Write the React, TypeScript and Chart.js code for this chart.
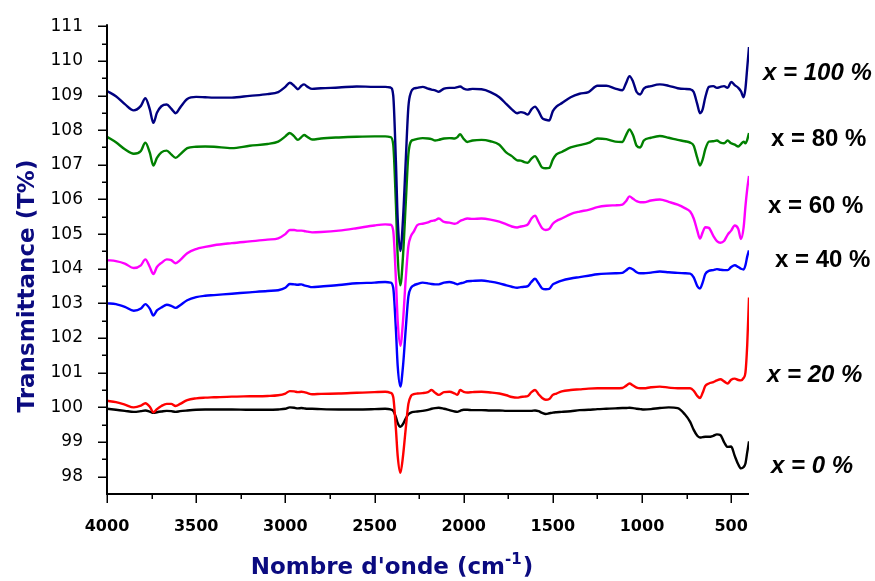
import { useEffect, useRef } from "react";
import { Chart, registerables } from "chart.js";

Chart.register(...registerables);

// Wavenumber grid (cm-1)
const WAVENUMBERS = [
  4000, 3950, 3900, 3850, 3810, 3785, 3760, 3740, 3720, 3695,
  3665, 3640, 3615, 3590, 3550, 3500, 3450, 3400, 3300, 3200,
  3100, 3040, 3000, 2975, 2950, 2930, 2910, 2895, 2875, 2850,
  2800, 2700, 2600, 2500, 2440, 2410, 2395, 2380, 2370, 2355,
  2340, 2325, 2310, 2295, 2280, 2260, 2230, 2200, 2180, 2160,
  2140, 2110, 2080, 2050, 2035, 2020, 2000, 1980, 1950, 1900,
  1850, 1800, 1760, 1730, 1700, 1680, 1660, 1640, 1620, 1600,
  1580, 1560, 1540, 1520, 1500, 1480, 1450, 1400, 1350, 1300,
  1250, 1200, 1150, 1110, 1090, 1070, 1050, 1030, 1010, 990,
  950, 900, 850, 800, 760, 730, 710, 690, 675, 660,
  645, 625, 600, 580, 560, 540, 520, 500, 480, 460,
  445, 430, 420, 410, 400,
];

const T_100 = [
  109.13, 108.98, 108.75, 108.57, 108.7, 108.92, 108.6, 108.21, 108.5, 108.69,
  108.74, 108.62, 108.49, 108.65, 108.9, 108.96, 108.95, 108.94, 108.94, 108.99,
  109.04, 109.1, 109.25, 109.37, 109.28, 109.18, 109.28, 109.32, 109.25, 109.19,
  109.21, 109.23, 109.26, 109.25, 109.25, 109.23, 109.0, 107.1, 105.45, 104.51,
  105.45, 107.1, 108.67, 109.1, 109.2, 109.22, 109.25, 109.2, 109.17, 109.15,
  109.11, 109.2, 109.22, 109.22, 109.24, 109.26, 109.2, 109.17, 109.19, 109.18,
  109.1, 108.95, 108.75, 108.6, 108.49, 108.52, 108.5, 108.45, 108.6, 108.68,
  108.55, 108.35, 108.3, 108.28, 108.55, 108.68, 108.78, 108.95, 109.05, 109.1,
  109.28, 109.28, 109.2, 109.15, 109.35, 109.56, 109.4, 109.1, 109.03, 109.2,
  109.27, 109.32, 109.28, 109.21, 109.19, 109.18, 109.1, 108.75, 108.49, 108.6,
  108.95, 109.25, 109.27, 109.22, 109.25, 109.27, 109.22, 109.39, 109.3, 109.22,
  109.12, 108.95, 109.2, 109.8, 110.4,
];

const T_80 = [
  107.81, 107.65, 107.45, 107.32, 107.4, 107.64, 107.35, 106.98, 107.2, 107.36,
  107.41, 107.3, 107.2, 107.3, 107.48, 107.52, 107.53, 107.52, 107.48, 107.55,
  107.6, 107.67, 107.82, 107.92, 107.82, 107.72, 107.8, 107.86, 107.8, 107.73,
  107.76, 107.79, 107.81, 107.82, 107.82, 107.8, 107.58, 105.87, 104.38, 103.52,
  104.38, 105.87, 107.3, 107.68, 107.72, 107.75, 107.77, 107.76, 107.74, 107.7,
  107.72, 107.76, 107.77, 107.76, 107.8, 107.88, 107.75, 107.66, 107.7, 107.72,
  107.68, 107.58, 107.35, 107.25, 107.13, 107.12, 107.08, 107.06, 107.18, 107.25,
  107.1, 106.92, 106.9, 106.91, 107.15, 107.3, 107.37, 107.5, 107.57, 107.63,
  107.76, 107.74, 107.67, 107.66, 107.85, 108.02, 107.85, 107.55, 107.5, 107.7,
  107.78, 107.83, 107.78, 107.72, 107.68, 107.64, 107.55, 107.2, 106.98, 107.15,
  107.45, 107.67, 107.68, 107.7, 107.64, 107.62, 107.7, 107.62, 107.58, 107.53,
  107.6, 107.67, 107.62, 107.72, 107.92,
];

const T_60 = [
  104.25, 104.22, 104.15, 104.02, 104.1, 104.27, 104.05, 103.85, 104.05, 104.17,
  104.27, 104.25, 104.16, 104.25, 104.45, 104.57, 104.63, 104.68, 104.74, 104.79,
  104.84, 104.88, 105.0, 105.12, 105.12, 105.1, 105.1, 105.09, 105.07, 105.05,
  105.06, 105.1, 105.17, 105.25, 105.28, 105.27, 105.1, 103.7, 102.5, 101.78,
  102.5, 103.7, 104.65, 104.95, 105.07, 105.26, 105.3, 105.34, 105.38, 105.4,
  105.45, 105.35, 105.33, 105.3, 105.32, 105.38, 105.42, 105.45, 105.44, 105.45,
  105.42, 105.36, 105.28, 105.22, 105.19, 105.22, 105.24, 105.28, 105.45, 105.53,
  105.35, 105.17, 105.12, 105.15, 105.3, 105.38, 105.45, 105.58, 105.65, 105.7,
  105.78, 105.82, 105.83, 105.85, 105.95, 106.09, 106.02, 105.95, 105.92, 105.92,
  105.97, 106.0, 105.93, 105.85, 105.75, 105.65, 105.45, 105.1, 104.87, 105.05,
  105.2, 105.18, 104.95, 104.8, 104.75, 104.8, 104.98, 105.1, 105.25, 105.15,
  104.86, 105.2, 105.8, 106.3, 106.68,
];

const T_40 = [
  103.0, 102.98, 102.9, 102.79, 102.85, 102.98, 102.85, 102.65, 102.8, 102.88,
  102.96, 102.93, 102.87, 102.95, 103.09, 103.18, 103.22, 103.24, 103.28, 103.32,
  103.36, 103.38, 103.45, 103.56, 103.55, 103.54, 103.55, 103.52, 103.5, 103.47,
  103.49, 103.53, 103.58, 103.6, 103.62, 103.6, 103.45, 102.25, 101.2, 100.6,
  101.2, 102.25, 103.2, 103.45, 103.52, 103.56, 103.6, 103.58, 103.56, 103.55,
  103.55, 103.6, 103.62, 103.58, 103.55, 103.58, 103.6, 103.64, 103.65, 103.66,
  103.63, 103.58, 103.52, 103.48, 103.45, 103.47, 103.48, 103.5, 103.62, 103.71,
  103.58, 103.43, 103.41, 103.42, 103.55, 103.6, 103.66, 103.72, 103.76, 103.8,
  103.84, 103.86, 103.87, 103.88, 103.95, 104.02, 103.98, 103.9, 103.87, 103.87,
  103.89, 103.92, 103.9, 103.88, 103.87, 103.86, 103.75, 103.5, 103.43, 103.6,
  103.85, 103.94, 103.96, 103.99, 103.97, 103.96, 103.96, 104.05, 104.1, 104.05,
  104.0, 103.98, 104.1, 104.35, 104.53,
];

const T_20 = [
  100.19, 100.15, 100.08, 100.0, 100.05, 100.12, 100.02, 99.86, 99.95, 100.04,
  100.1, 100.1, 100.04, 100.1, 100.21, 100.26, 100.28, 100.29, 100.31, 100.32,
  100.33, 100.35, 100.4, 100.47, 100.46, 100.44, 100.45, 100.44, 100.41, 100.38,
  100.39, 100.4, 100.42, 100.44, 100.45, 100.42, 100.3, 99.38, 98.6, 98.11,
  98.6, 99.38, 100.1, 100.33, 100.38, 100.4, 100.41, 100.44, 100.5, 100.42,
  100.36, 100.44, 100.45, 100.4, 100.36, 100.5, 100.45, 100.43, 100.44, 100.45,
  100.43, 100.4, 100.35, 100.3, 100.28, 100.3, 100.31, 100.33, 100.44, 100.5,
  100.38, 100.27, 100.22, 100.24, 100.36, 100.4, 100.46, 100.5, 100.52, 100.54,
  100.55, 100.55, 100.55, 100.56, 100.62, 100.69, 100.63, 100.57, 100.55, 100.55,
  100.58, 100.6, 100.57, 100.55, 100.55, 100.55, 100.48, 100.33, 100.27, 100.42,
  100.62, 100.69, 100.73, 100.78, 100.81, 100.75, 100.69, 100.8, 100.83, 100.79,
  100.78, 100.85, 101.0, 101.8, 103.17,
];

const T_0 = [
  99.96, 99.93, 99.9, 99.87, 99.89, 99.91, 99.88, 99.84, 99.86, 99.88,
  99.9, 99.89, 99.87, 99.89, 99.91, 99.93, 99.94, 99.94, 99.94, 99.93,
  99.93, 99.94, 99.96, 100.0, 99.99, 99.97, 99.98, 99.97, 99.96, 99.96,
  99.95, 99.94, 99.94, 99.95, 99.96, 99.94, 99.9, 99.72, 99.55, 99.44,
  99.52, 99.68, 99.8, 99.85, 99.87, 99.88, 99.9, 99.93, 99.96, 99.98,
  99.99, 99.96, 99.92, 99.88, 99.87, 99.9, 99.93, 99.93, 99.92, 99.92,
  99.91, 99.91, 99.9, 99.9, 99.9, 99.9, 99.9, 99.9, 99.9, 99.91,
  99.89, 99.84, 99.81, 99.83, 99.85, 99.86, 99.87, 99.89, 99.92, 99.93,
  99.95, 99.96, 99.97, 99.98, 99.98, 99.99, 99.98, 99.96, 99.95, 99.94,
  99.95, 99.98, 100.0, 99.98, 99.8, 99.58, 99.35, 99.18, 99.13, 99.14,
  99.15, 99.15, 99.18, 99.22, 99.2, 99.0, 98.86, 98.87, 98.6, 98.35,
  98.24, 98.28, 98.38, 98.7, 99.02,
];

const SERIES_LABELS = ["x = 100 %", "x = 80 %", "x = 60 %", "x = 40 %", "x = 20 %", "x = 0 %"];
const SERIES_VALUES = [T_100, T_80, T_60, T_40, T_20, T_0];
const SERIES_COLORS = ["#000080", "#008000", "#ff00ff", "#0000ff", "#ff0000", "#000000"];

const X_TICKS = [4000, 3500, 3000, 2500, 2000, 1500, 1000, 500];
const X_MINOR_TICKS = [3750, 3250, 2750, 2250, 1750, 1250, 750];
const Y_TICKS = [98, 99, 100, 101, 102, 103, 104, 105, 106, 107, 108, 109, 110, 111];
const Y_MINOR_TICKS = [98.5, 99.5, 100.5, 101.5, 102.5, 103.5, 104.5, 105.5, 106.5, 107.5, 108.5, 109.5, 110.5];

const X_TITLE = "Nombre d'onde (cm";
const X_TITLE_SUP = "-1";
const X_TITLE_END = ")";
const Y_TITLE = "Transmittance (T%)";

// label placement (left x, baseline y, italic)
const LABEL_PLACES: [number, number, boolean][] = [
  [763, 80, true],
  [771, 146, false],
  [768, 213, false],
  [775, 267, false],
  [767, 382, true],
  [771, 473, true],
];

const decorPlugin = {
  id: "decor",
  afterDraw(chart: any) {
    const { ctx, chartArea, scales } = chart;
    const { left, right, top, bottom } = chartArea;
    const xs = scales.x;
    const ys = scales.y;
    ctx.save();
    ctx.strokeStyle = "#000";
    ctx.lineCap = "butt";
    // axis lines
    ctx.lineWidth = 2;
    ctx.beginPath();
    ctx.moveTo(left, top - 2);
    ctx.lineTo(left, bottom);
    ctx.lineTo(right, bottom);
    ctx.stroke();
    ctx.lineWidth = 1.5;
    ctx.beginPath();
    Y_TICKS.forEach((v) => {
      const p = Math.round(ys.getPixelForValue(v)) + 0.25;
      ctx.moveTo(left - 9, p);
      ctx.lineTo(left, p);
    });
    Y_MINOR_TICKS.forEach((v) => {
      const p = Math.round(ys.getPixelForValue(v)) + 0.25;
      ctx.moveTo(left - 5, p);
      ctx.lineTo(left, p);
    });
    X_TICKS.forEach((v) => {
      const p = Math.round(xs.getPixelForValue(v)) + 0.25;
      ctx.moveTo(p, bottom);
      ctx.lineTo(p, bottom + 9);
    });
    X_MINOR_TICKS.forEach((v) => {
      const p = Math.round(xs.getPixelForValue(v)) + 0.25;
      ctx.moveTo(p, bottom);
      ctx.lineTo(p, bottom + 5);
    });
    ctx.stroke();

    // axis titles
    const titleColor = "#0b0b80";
    ctx.fillStyle = titleColor;
    ctx.textBaseline = "alphabetic";
    ctx.textAlign = "left";
    const mainFont = 'bold 23px "DejaVu Sans"';
    const supFont = 'bold 15px "DejaVu Sans"';
    ctx.font = mainFont;
    const w1 = ctx.measureText(X_TITLE).width;
    const w3 = ctx.measureText(X_TITLE_END).width;
    ctx.font = supFont;
    const w2 = ctx.measureText(X_TITLE_SUP).width;
    const total = w1 + w2 + w3 + 1;
    const sx = 392 - total / 2;
    ctx.font = mainFont;
    ctx.fillText(X_TITLE, sx, 574);
    ctx.font = supFont;
    ctx.fillText(X_TITLE_SUP, sx + w1, 564);
    ctx.font = mainFont;
    ctx.fillText(X_TITLE_END, sx + w1 + w2 + 1, 574);

    ctx.save();
    ctx.translate(34, 286);
    ctx.rotate(-Math.PI / 2);
    ctx.textAlign = "center";
    ctx.font = mainFont;
    ctx.fillText(Y_TITLE, 0, 0);
    ctx.restore();

    // series labels
    ctx.fillStyle = "#000";
    ctx.textAlign = "left";
    chart.data.datasets.forEach((ds: any, i: number) => {
      const [lx, ly, italic] = LABEL_PLACES[i];
      ctx.font = `${italic ? "italic " : ""}bold 24px "Liberation Sans", Arial, sans-serif`;
      ctx.fillText(ds.label, lx, ly);
    });
    ctx.restore();
  },
};

export default function App() {
  const canvasRef = useRef<HTMLCanvasElement | null>(null);

  useEffect(() => {
    const canvas = canvasRef.current;
    if (!canvas) return;
    const datasets = SERIES_LABELS.map((label, i) => ({
      label,
      data: WAVENUMBERS.map((w, j) => ({ x: w, y: SERIES_VALUES[i][j] })),
      borderColor: SERIES_COLORS[i],
      backgroundColor: SERIES_COLORS[i],
      borderWidth: 2.4,
      pointRadius: 0,
      fill: false,
      cubicInterpolationMode: "monotone" as const,
    }));
    const chart = new Chart(canvas, {
      type: "line",
      data: { datasets },
      options: {
        responsive: false,
        animation: false,
        devicePixelRatio: 1,
        layout: { padding: { left: 0, right: 126, top: 17, bottom: 0 } },
        plugins: {
          legend: { display: false },
          tooltip: { enabled: false },
        },
        scales: {
          x: {
            type: "linear",
            reverse: true,
            min: 400,
            max: 4000,
            afterBuildTicks: (s: any) => {
              s.ticks = X_TICKS.map((v) => ({ value: v }));
            },
            afterFit: (s: any) => {
              s.height = 87;
            },
            grid: { display: false },
            border: { display: false },
            ticks: {
              color: "#000",
              padding: 15,
              autoSkip: false,
              maxRotation: 0,
              font: { family: "DejaVu Sans", weight: "bold", size: 16 },
              callback: (v: any) => String(v),
            },
          },
          y: {
            type: "linear",
            min: 97.5,
            max: 111,
            afterBuildTicks: (s: any) => {
              s.ticks = Y_TICKS.map((v) => ({ value: v }));
            },
            afterFit: (s: any) => {
              s.width = 107;
            },
            grid: { display: false },
            border: { display: false },
            ticks: {
              color: "#000",
              padding: 16,
              font: { family: "DejaVu Sans", size: 17 },
              callback: (v: any) => String(v),
            },
          },
        },
      },
      plugins: [decorPlugin],
    });
    return () => chart.destroy();
  }, []);

  return (
    <div style={{ position: "absolute", left: 0, top: 0, width: 875, height: 581, background: "#fff" }}>
      <canvas ref={canvasRef} width={875} height={581} style={{ display: "block" }} />
    </div>
  );
}
